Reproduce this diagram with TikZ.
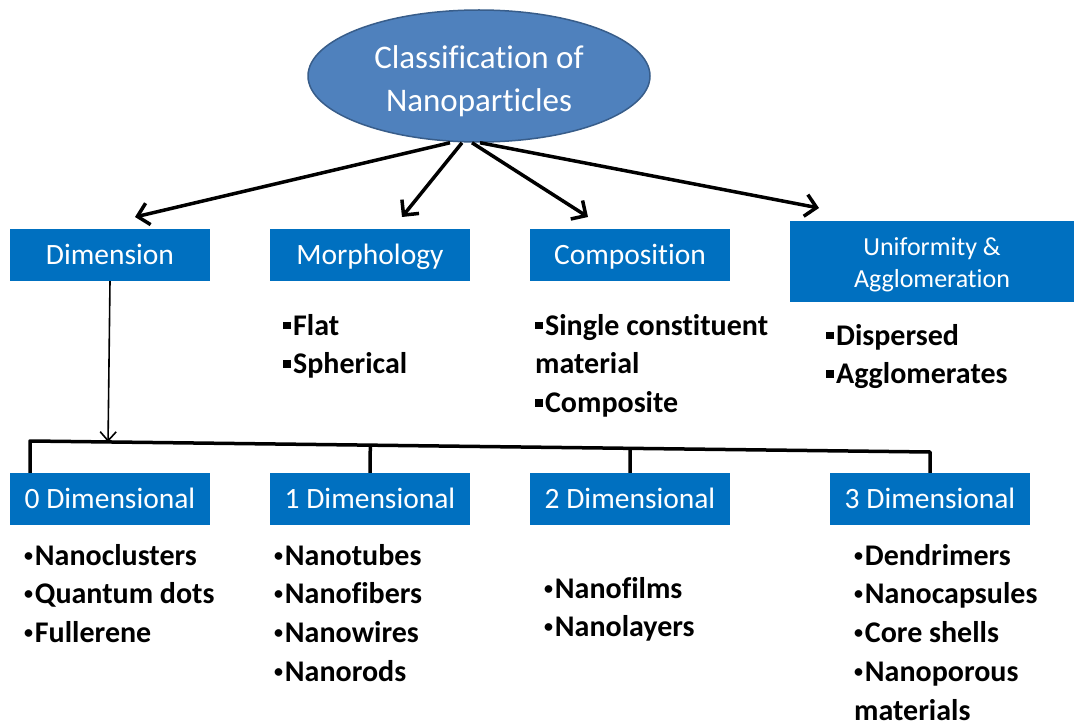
\documentclass[tikz,border=0pt]{standalone}
\usepackage{fontspec}
\setmainfont{Carlito}[Ligatures={NoCommon}]
\usetikzlibrary{arrows.meta,calc,shapes.geometric}
\definecolor{boxblue}{HTML}{0070C0}
\definecolor{ellblue}{HTML}{4F81BD}
\definecolor{ellborder}{HTML}{385D8A}
\newcommand{\sqb}{\rule[0.2em]{0.25em}{0.25em}\hspace{0.08em}}
\newcommand{\rbul}{\raisebox{4pt}{\scalebox{0.6}{\textbullet}}\hspace{0.06em}}
\begin{document}
\begin{tikzpicture}[x=1pt,y=-1pt,
  cat/.style={fill=boxblue, text=white, inner sep=0pt, minimum height=52pt, minimum width=200pt,
    font=\fontsize{29.5}{35}\selectfont, text height=19pt, text depth=0pt},
  lst/.style={anchor=base west, inner sep=0pt, font=\fontsize{30}{38.75}\selectfont\bfseries},
  bigarrow/.style={line width=3.5pt, -{Straight Barb[length=11pt,width=22pt]}},
  thinarrow/.style={line width=1.6pt, -{Straight Barb[length=9pt,width=16pt]}},
  barline/.style={line width=3.5pt, line join=round},
]
\useasboundingbox (0,0) rectangle (1074,722);

% root
\node[ellipse, fill=ellblue, draw=ellborder, line width=1.5pt, minimum width=342pt, minimum height=132pt,
  inner sep=0pt, text=white, align=center, font=\fontsize{33}{43}\selectfont] (root) at (479,76)
  {\rule{0pt}{33pt}Classification of\\Nanoparticles};

% first row
\node[cat] (dim) at (110,255) {Dimension};
\node[cat] (mor) at (370,255) {Morphology};
\node[cat] (com) at (630,255) {Composition};
\node[fill=boxblue, text=white, inner sep=0pt, minimum width=284pt, minimum height=81pt, align=center,
  font=\fontsize{26}{32}\selectfont] (uni) at (932,261.5) {\rule{0pt}{24pt}Uniformity \&\\Agglomeration};

% arrows from root
\coordinate (tD) at (135,217);
\coordinate (tM) at (402,217);
\coordinate (tC) at (588,217);
\coordinate (tU) at (819,208);
\draw[bigarrow] ([xshift=-29pt]root.south) -- (tD);
\draw[bigarrow] ([xshift=-17pt]root.south) -- (tM);
\draw[bigarrow] ([xshift=-7pt]root.south) -- (tC);
\draw[bigarrow] ([xshift=1pt]root.south) -- (tU);

% lists of first row
\node[lst] (lmor) at (283,335) {\begin{tabular}[t]{@{}l@{}}\sqb Flat\\ \sqb Spherical\end{tabular}};
\node[lst] (lcom) at (535,335) {\begin{tabular}[t]{@{}l@{}}\sqb Single constituent\\ material\\ \sqb Composite\end{tabular}};
\node[lst] (luni) at (826,345) {\begin{tabular}[t]{@{}l@{}}\sqb Dispersed\\ \sqb Agglomerates\end{tabular}};

% second row
\node[cat] (d0) at (110,499) {0 Dimensional};
\node[cat] (d1) at (370,499) {1 Dimensional};
\node[cat] (d2) at (630,499) {2 Dimensional};
\node[cat] (d3) at (930,499) {3 Dimensional};

% bar
\coordinate (barL) at (30,441);
\coordinate (barR) at (930,452);
\coordinate (tipD) at ($(barL)!(dim.south)!(barR)$);
\draw[thinarrow] (dim.south) -- (tipD);
\draw[barline] (d0.north -| barL) -- (barL) -- (barR) -- (d3.north);
\draw[barline] (d1.north) -- ($(barL)!(d1.north)!(barR)$);
\draw[barline] (d2.north) -- ($(barL)!(d2.north)!(barR)$);

% lists of second row
\node[lst] (l0) at (24,565) {\begin{tabular}[t]{@{}l@{}}\rbul Nanoclusters\\ \rbul Quantum dots\\ \rbul Fullerene\end{tabular}};
\node[lst] (l1) at (274,565) {\begin{tabular}[t]{@{}l@{}}\rbul Nanotubes\\ \rbul Nanofibers\\ \rbul Nanowires\\ \rbul Nanorods\end{tabular}};
\node[lst] (l2) at (544,598) {\begin{tabular}[t]{@{}l@{}}\rbul Nanofilms\\ \rbul Nanolayers\end{tabular}};
\node[lst] (l3) at (854,565) {\begin{tabular}[t]{@{}l@{}}\rbul Dendrimers\\ \rbul Nanocapsules\\ \rbul Core shells\\ \rbul Nanoporous\\ materials\end{tabular}};
\end{tikzpicture}
\end{document}
